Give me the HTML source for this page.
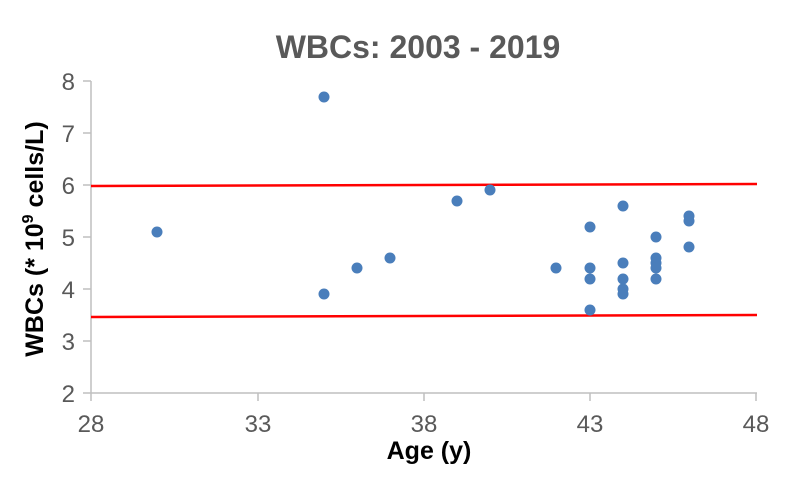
<!DOCTYPE html>
<html><head><style>body{margin:0;background:#fff}</style></head><body>
<svg width="792" height="479" xmlns="http://www.w3.org/2000/svg" font-family="Liberation Sans, Arial, sans-serif">
<rect width="792" height="479" fill="#fff"/>
<text x="418" y="58" text-anchor="middle" font-size="32" font-weight="bold" fill="#595959">WBCs: 2003 - 2019</text>
<g stroke="#bfbfbf" stroke-width="1.5">
<line x1="91" y1="81" x2="91" y2="393"/>
<line x1="91" y1="393" x2="757" y2="393"/>
<line x1="83" y1="81" x2="91" y2="81"/><line x1="83" y1="133" x2="91" y2="133"/><line x1="83" y1="185" x2="91" y2="185"/><line x1="83" y1="237" x2="91" y2="237"/><line x1="83" y1="289" x2="91" y2="289"/><line x1="83" y1="341" x2="91" y2="341"/><line x1="83" y1="393" x2="91" y2="393"/>
<line x1="91" y1="393" x2="91" y2="401"/><line x1="258" y1="393" x2="258" y2="401"/><line x1="424" y1="393" x2="424" y2="401"/><line x1="590" y1="393" x2="590" y2="401"/><line x1="756" y1="393" x2="756" y2="401"/>
</g>
<g font-size="24" fill="#595959" text-anchor="end">
<text x="75" y="90">8</text><text x="75" y="142">7</text><text x="75" y="194">6</text><text x="75" y="246">5</text><text x="75" y="298">4</text><text x="75" y="350">3</text><text x="75" y="402">2</text>
</g>
<g font-size="24" fill="#595959" text-anchor="middle">
<text x="91" y="432">28</text><text x="258" y="432">33</text><text x="424" y="432">38</text><text x="590" y="432">43</text><text x="756" y="432">48</text>
</g>
<text x="429" y="459" text-anchor="middle" font-size="25" font-weight="bold" fill="#000">Age (y)</text>
<text transform="translate(43,239) rotate(-90)" text-anchor="middle" font-size="25" font-weight="bold" fill="#000">WBCs (* 10<tspan font-size="16" dy="-10">9</tspan><tspan dy="10"> cells/L)</tspan></text>
<line x1="91" y1="186" x2="757" y2="184" stroke="#ff0000" stroke-width="2.5"/>
<line x1="91" y1="317" x2="757" y2="315" stroke="#ff0000" stroke-width="2.5"/>
<g fill="#4a7ebb">
<circle cx="157" cy="232" r="5.5"/><circle cx="324" cy="97" r="5.5"/><circle cx="324" cy="294" r="5.5"/>
<circle cx="357" cy="268" r="5.5"/><circle cx="390" cy="258" r="5.5"/><circle cx="457" cy="201" r="5.5"/>
<circle cx="490" cy="190" r="5.5"/><circle cx="556" cy="268" r="5.5"/>
<circle cx="590" cy="227" r="5.5"/><circle cx="590" cy="268" r="5.5"/><circle cx="590" cy="279" r="5.5"/><circle cx="590" cy="310" r="5.5"/>
<circle cx="623" cy="206" r="5.5"/><circle cx="623" cy="263" r="5.5"/><circle cx="623" cy="279" r="5.5"/><circle cx="623" cy="289" r="5.5"/><circle cx="623" cy="294" r="5.5"/>
<circle cx="656" cy="237" r="5.5"/><circle cx="656" cy="258" r="5.5"/><circle cx="656" cy="263" r="5.5"/><circle cx="656" cy="268" r="5.5"/><circle cx="656" cy="279" r="5.5"/>
<circle cx="689" cy="216" r="5.5"/><circle cx="689" cy="221" r="5.5"/><circle cx="689" cy="247" r="5.5"/>
</g>
</svg>
</body></html>
